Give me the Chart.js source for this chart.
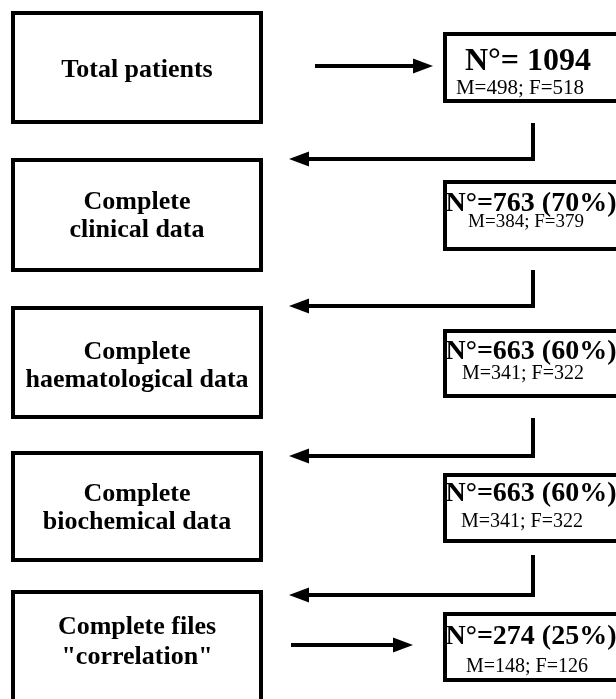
<!DOCTYPE html>
<html>
<head>
<meta charset="utf-8">
<script src="https://cdn.jsdelivr.net/npm/chart.js@4.4.1/dist/chart.umd.min.js"></script>
<style>
    body { margin: 0; background: #fff; }
    #wrap { width: 616px; height: 699px; }
</style>
</head>
<body>
<div id="wrap"><canvas id="flowChart"></canvas></div>
<script>
// data
var stepLabels = [
    ["Total patients"],
    ["Complete", "clinical data"],
    ["Complete", "haematological data"],
    ["Complete", "biochemical data"],
    ["Complete files", "\"correlation\""]
];
var patientCounts = [1094, 763, 663, 663, 274];
var percentShares = [null, 70, 60, 60, 25];
var maleCounts = [498, 384, 341, 341, 148];
var femaleCounts = [518, 379, 322, 322, 126];

// layout, in scale units (x 0..616, y 0..699)
var leftBoxX = [11, 263];
var rightBoxX = [443, 624];
var leftBoxY = [[11, 124], [158, 272], [306, 419], [451, 562], [590, 704]];
var rightBoxY = [[32, 103], [180, 251], [329, 398], [473, 543], [612, 682]];
var leftTextY = [[68], [200, 228], [350, 378], [492, 520], [625, 655]];
var rightTextY = [[59, 87.5], [202, 221], [350, 372], [492, 520], [635, 665]];
var countTextX = [528, 531, 531, 531, 531];
var sexTextX = [520, 526, 523, 522, 527];
var countFont = [32, 28, 28, 28, 28];
var sexFont = [21, 19, 20, 20, 20];
var sideArrows = [[0, 315, 433, 66], [4, 291, 413, 645]];       // row, x from, x to, y
var backArrows = [[123, 159], [270, 306], [418, 456], [555, 595]]; // vertical start, horizontal y
var backArrowX = [533, 289];

var serif = '"Liberation Serif", "Times New Roman", serif';

function countText(i) {
    if (percentShares[i] == null) return "N°= " + patientCounts[i];
    return "N°=" + patientCounts[i] + " (" + percentShares[i] + "%)";
}

function drawArrowHead(ctx, tipX, tipY, dir) {
    ctx.beginPath();
    ctx.moveTo(tipX, tipY);
    ctx.lineTo(tipX - dir * 20, tipY - 7.5);
    ctx.lineTo(tipX - dir * 20, tipY + 7.5);
    ctx.closePath();
    ctx.fill();
}

var flowPlugin = {
    id: 'flowBoxes',
    afterDatasetsDraw: function (chart) {
        var ctx = chart.ctx;
        var sx = chart.scales.x, sy = chart.scales.y;
        var px = function (v) { return sx.getPixelForValue(v); };
        var py = function (v) { return sy.getPixelForValue(v); };
        ctx.save();
        ctx.strokeStyle = '#000';
        ctx.fillStyle = '#000';
        ctx.lineWidth = 4;
        ctx.textAlign = 'center';
        ctx.textBaseline = 'alphabetic';

        for (var i = 0; i < stepLabels.length; i++) {
            // left box
            var lx0 = px(leftBoxX[0]), lx1 = px(leftBoxX[1]);
            var ly0 = py(leftBoxY[i][0]), ly1 = py(leftBoxY[i][1]);
            ctx.strokeRect(lx0 + 2, ly0 + 2, lx1 - lx0 - 4, ly1 - ly0 - 4);
            ctx.font = 'bold 26px ' + serif;
            for (var j = 0; j < stepLabels[i].length; j++) {
                ctx.fillText(stepLabels[i][j], (lx0 + lx1) / 2, py(leftTextY[i][j]) + 8.6);
            }

            // right box
            var rx0 = px(rightBoxX[0]), rx1 = px(rightBoxX[1]);
            var ry0 = py(rightBoxY[i][0]), ry1 = py(rightBoxY[i][1]);
            ctx.strokeRect(rx0 + 2, ry0 + 2, rx1 - rx0 - 4, ry1 - ry0 - 4);
            ctx.font = 'bold ' + countFont[i] + 'px ' + serif;
            ctx.fillText(countText(i), px(countTextX[i]), py(rightTextY[i][0]) + countFont[i] * 0.331);
            ctx.font = sexFont[i] + 'px ' + serif;
            ctx.fillText("M=" + maleCounts[i] + "; F=" + femaleCounts[i], px(sexTextX[i]), py(rightTextY[i][1]) + sexFont[i] * 0.331);
        }

        // straight arrows to the right
        sideArrows.forEach(function (a) {
            var y = py(a[3]);
            ctx.beginPath();
            ctx.moveTo(px(a[1]), y);
            ctx.lineTo(px(a[2]) - 15, y);
            ctx.stroke();
            drawArrowHead(ctx, px(a[2]), y, 1);
        });

        // elbow arrows back to the next step
        backArrows.forEach(function (a) {
            var x = px(backArrowX[0]);
            var y = py(a[1]);
            ctx.beginPath();
            ctx.moveTo(x, py(a[0]));
            ctx.lineTo(x, y);
            ctx.lineTo(px(backArrowX[1]) + 15, y);
            ctx.stroke();
            drawArrowHead(ctx, px(backArrowX[1]), y, -1);
        });
        ctx.restore();
    }
};

// one invisible anchor point per step, at the centre of its count box
var anchorPoints = patientCounts.map(function (n, i) {
    return { x: (rightBoxX[0] + rightBoxX[1]) / 2, y: (rightBoxY[i][0] + rightBoxY[i][1]) / 2 };
});

new Chart(document.getElementById("flowChart"), {
    type: 'scatter',
    plugins: [flowPlugin],
    data: {
        datasets: [{ label: "Patients", data: anchorPoints, pointRadius: 0 }]
    },
    options: {
        responsive: true,
        maintainAspectRatio: false,
        animation: false,
        layout: { padding: 0 },
        scales: {
            x: { type: 'linear', min: 0, max: 616, display: false },
            y: { type: 'linear', min: 0, max: 699, reverse: true, display: false }
        },
        plugins: {
            legend: { display: false },
            tooltip: { enabled: false }
        }
    }
});
</script>
</body>
</html>
